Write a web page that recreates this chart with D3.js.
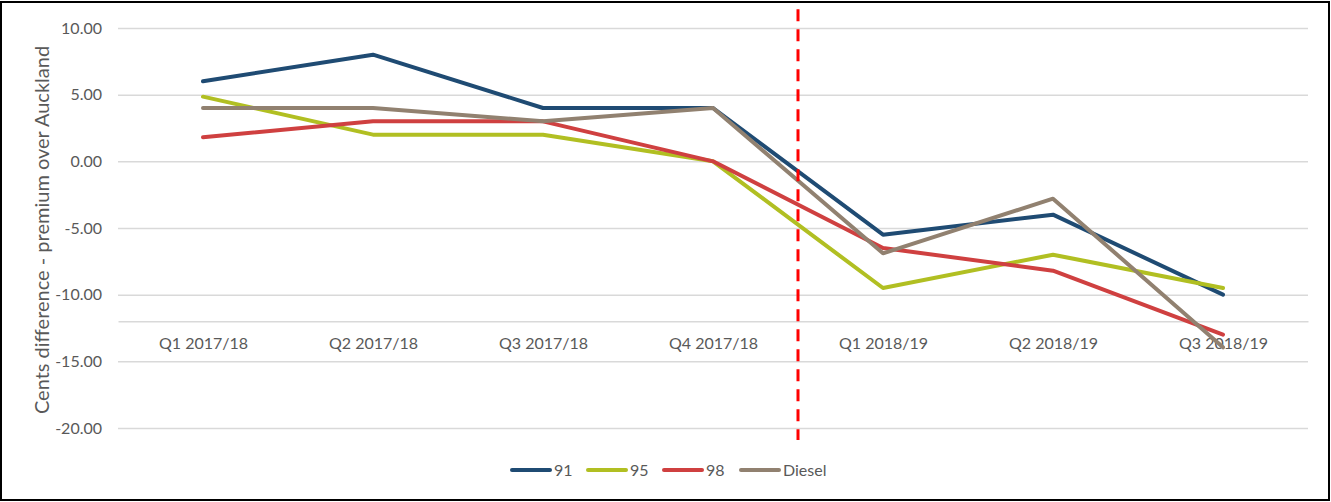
<!DOCTYPE html>
<html>
<head>
<meta charset="utf-8">
<script src="https://cdn.jsdelivr.net/npm/d3@7"></script>
<style>
  html, body { margin: 0; padding: 0; background: #fff; }
  svg { display: block; font-family: Lato, "Open Sans", sans-serif; }
</style>
</head>
<body>
<svg id="chart"></svg>
<script>
const categories = ['Q1 2017/18', 'Q2 2017/18', 'Q3 2017/18', 'Q4 2017/18', 'Q1 2018/19', 'Q2 2018/19', 'Q3 2018/19'];
const series91 = [6.0, 8.0, 4.0, 4.0, -5.5, -4.0, -10.0];
const series95 = [4.85, 2.0, 2.0, 0.0, -9.5, -7.0, -9.5];
const series98 = [1.8, 3.0, 3.0, 0.0, -6.5, -8.2, -13.0];
const seriesDiesel = [4.0, 4.0, 3.0, 4.0, -6.9, -2.8, -13.95];
const yTicks = [10, 5, 0, -5, -10, -15, -20];
const axisCross = -12;

const series = [
    { name: '91', values: series91, color: '#1f4b73' },
    { name: '95', values: series95, color: '#b1bf22' },
    { name: '98', values: series98, color: '#cf4040' },
    { name: 'Diesel', values: seriesDiesel, color: '#918170' }
];

const W = 1331, H = 502;
const margin = { top: 28, right: 23, bottom: 74, left: 118 };
const width = W - margin.left - margin.right;
const height = H - margin.top - margin.bottom;

const svg = d3.select('#chart').attr('width', W).attr('height', H);

// outer frame
svg.append('rect')
    .attr('x', 1).attr('y', 2)
    .attr('width', W - 3).attr('height', H - 4)
    .attr('fill', '#fff').attr('stroke', '#000').attr('stroke-width', 2);

const g = svg.append('g').attr('transform', `translate(${margin.left},${margin.top})`);

const x = d3.scalePoint().domain(categories).range([0, width]).padding(0.5);
const y = d3.scaleLinear().domain([10, -20]).range([0, height]);

// Grid lines
g.append('g')
    .call(d3.axisLeft(y).tickValues(yTicks).tickSize(-width).tickFormat(''))
    .call(a => a.select('.domain').remove())
    .selectAll('line').attr('stroke', '#d9d9d9').attr('stroke-width', 1.5);

// Y tick labels
g.append('g')
    .call(d3.axisLeft(y).tickValues(yTicks).tickSize(0).tickPadding(16))
    .call(a => a.select('.domain').remove())
    .selectAll('text')
    .attr('font-family', 'Lato, sans-serif')
    .attr('font-size', '16px')
    .attr('fill', '#595959')
    .text(d => d.toFixed(2));

// Category axis line
g.append('g')
    .attr('transform', `translate(0,${y(axisCross)})`)
    .call(d3.axisBottom(x).tickSize(0).tickPadding(16))
    .call(a => a.select('.domain').attr('stroke', '#d9d9d9').attr('stroke-width', 1.5))
    .selectAll('text')
    .attr('font-family', 'Lato, sans-serif')
    .attr('font-size', '16px')
    .attr('fill', '#595959');

// Axis title
g.append('text')
    .attr('transform', 'rotate(-90)')
    .attr('x', -height / 2 - 2)
    .attr('y', -69)
    .attr('text-anchor', 'middle')
    .attr('font-size', '20px')
    .attr('fill', '#595959')
    .text('Cents difference - premium over Auckland');

// Lines
const line = d3.line()
    .x((d, i) => x(categories[i]))
    .y(d => y(d));

g.selectAll('.series')
    .data(series)
    .enter()
    .append('path')
    .attr('class', 'series')
    .attr('d', d => line(d.values))
    .attr('fill', 'none')
    .attr('stroke', d => d.color)
    .attr('stroke-width', 4)
    .attr('stroke-linejoin', 'round')
    .attr('stroke-linecap', 'round');

// Red dashed divider between 2017/18 and 2018/19
const divX = (x(categories[3]) + x(categories[4])) / 2;
g.append('line')
    .attr('x1', divX).attr('x2', divX)
    .attr('y1', y(11.4)).attr('y2', y(-20.9))
    .attr('stroke', '#ff0000')
    .attr('stroke-width', 3)
    .attr('stroke-dasharray', '12,8');

// Legend
const legendOffsets = [0, 76, 152, 229];
const legend = svg.append('g').attr('transform', `translate(512,${H - 32})`);
const li = legend.selectAll('.li')
    .data(series)
    .enter()
    .append('g')
    .attr('transform', (d, i) => `translate(${legendOffsets[i]},0)`);
li.append('line')
    .attr('x1', 0).attr('x2', 38)
    .attr('stroke', d => d.color)
    .attr('stroke-width', 4)
    .attr('stroke-linecap', 'round');
li.append('text')
    .attr('x', 42)
    .attr('y', 6)
    .attr('font-size', '16px')
    .attr('fill', '#595959')
    .text(d => d.name);
</script>
</body>
</html>
